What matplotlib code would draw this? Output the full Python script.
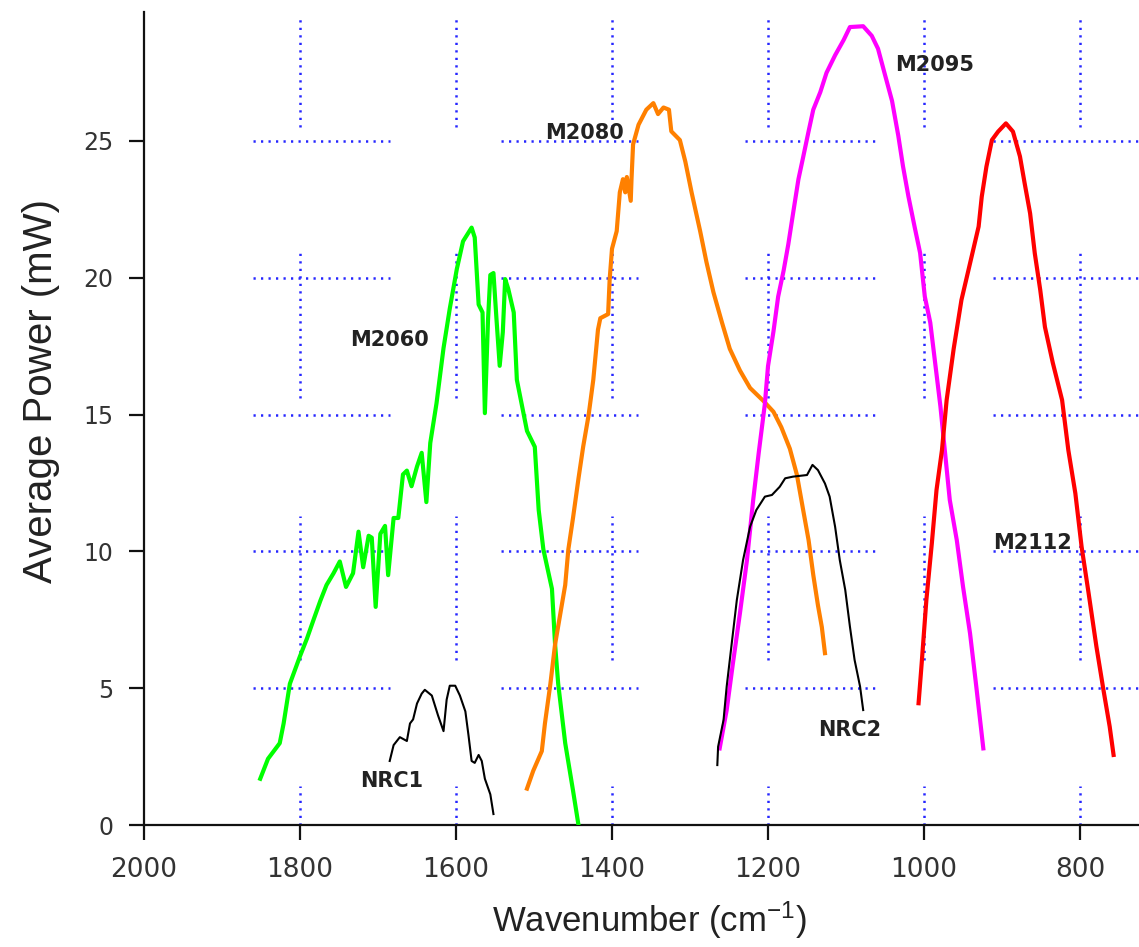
import matplotlib
matplotlib.use("Agg")
import matplotlib.pyplot as plt

# ---------------- data ----------------
m2060_x = [1851, 1841, 1826, 1821, 1813, 1800, 1791, 1783, 1774, 1766, 1757, 1749, 1741,
           1732, 1725, 1719, 1712, 1708, 1703, 1697, 1691, 1687, 1680, 1674, 1668, 1663,
           1657, 1650, 1644, 1638, 1633, 1625, 1616, 1608, 1599, 1591, 1580, 1576, 1571,
           1566, 1563, 1559, 1556, 1552, 1548, 1544, 1540, 1537, 1533, 1526, 1522, 1509,
           1499, 1494, 1488, 1477, 1473, 1469, 1460, 1450, 1443]
m2060_y = [1.69, 2.42, 2.99, 3.71, 5.16, 6.17, 6.82, 7.47, 8.19, 8.77, 9.20, 9.63, 8.70,
           9.20, 10.72, 9.42, 10.57, 10.50, 7.97, 10.64, 10.93, 9.13, 11.22, 11.22, 12.81,
           12.95, 12.38, 13.10, 13.60, 11.80, 13.96, 15.41, 17.43, 18.87, 20.31, 21.33,
           21.83, 21.47, 19.02, 18.73, 15.05, 18.44, 20.10, 20.17, 18.44, 16.78, 18.01,
           19.95, 19.59, 18.73, 16.27, 14.40, 13.82, 11.51, 10.07, 8.63, 6.60, 5.16, 2.99,
           1.26, 0.0]

m2080_x = [1509, 1501, 1490, 1486, 1479, 1473, 1467, 1460, 1456, 1450, 1443, 1437, 1430,
           1424, 1418, 1415, 1405, 1403, 1400, 1394, 1390, 1386, 1383, 1381, 1376, 1375,
           1373, 1366, 1356, 1347, 1341, 1334, 1327, 1324, 1313, 1306, 1298, 1287, 1279,
           1270, 1259, 1249, 1236, 1223, 1206, 1193, 1183, 1172, 1163, 1155, 1148, 1142,
           1136, 1131, 1127]
m2080_y = [1.33, 1.98, 2.70, 3.71, 5.16, 6.60, 7.60, 8.77, 10.07, 11.22, 12.66, 13.82,
           14.98, 16.27, 18.10, 18.52, 18.67, 19.95, 21.06, 21.70, 23.12, 23.60, 23.12,
           23.68, 22.81, 23.60, 24.87, 25.59, 26.14, 26.38, 25.98, 26.22, 26.14, 25.35,
           25.03, 24.24, 23.12, 21.70, 20.58, 19.47, 18.36, 17.40, 16.61, 15.97, 15.50,
           15.10, 14.54, 13.75, 12.80, 11.52, 10.41, 9.14, 8.03, 7.23, 6.28]

m2095_x = [1262, 1253, 1245, 1236, 1227, 1219, 1212, 1204, 1200, 1193, 1187, 1180, 1174,
           1168, 1161, 1155, 1148, 1142, 1133, 1125, 1114, 1103, 1095, 1078, 1067, 1059,
           1050, 1041, 1033, 1027, 1020, 1012, 1005, 999, 992, 979, 967, 958, 950, 941,
           933, 924]
m2095_y = [2.80, 4.20, 5.91, 7.74, 9.68, 11.88, 13.58, 15.40, 16.77, 18.04, 19.31, 20.26,
           21.22, 22.33, 23.60, 24.40, 25.35, 26.14, 26.78, 27.49, 28.13, 28.69, 29.16,
           29.19, 28.84, 28.37, 27.41, 26.46, 25.19, 24.08, 22.97, 21.85, 20.90, 19.31,
           18.36, 15.30, 11.88, 10.41, 8.71, 7.00, 5.06, 2.80]

m2112_x = [1007, 1003, 997, 990, 984, 977, 971, 962, 952, 945, 939, 930, 926, 920, 913,
           905, 895, 886, 877, 871, 864, 858, 851, 845, 835, 823, 815, 806, 798, 789, 779,
           770, 762, 757]
m2112_y = [4.45, 5.91, 8.22, 10.29, 12.24, 13.70, 15.53, 17.40, 19.19, 20.04, 20.77,
           21.87, 22.96, 24.06, 25.03, 25.34, 25.64, 25.34, 24.43, 23.45, 22.35, 20.89,
           19.55, 18.20, 16.90, 15.53, 13.70, 12.12, 10.17, 8.47, 6.52, 4.94, 3.60, 2.56]

nrc1_x = [1685, 1680, 1672, 1663, 1659, 1655, 1650, 1644, 1640, 1631, 1623, 1616, 1612,
          1608, 1601, 1595, 1588, 1584, 1580, 1576, 1571, 1567, 1563, 1556, 1552]
nrc1_y = [2.34, 2.92, 3.21, 3.07, 3.71, 3.86, 4.44, 4.80, 4.94, 4.73, 4.00, 3.43, 4.58,
          5.09, 5.09, 4.73, 4.15, 3.28, 2.34, 2.27, 2.56, 2.34, 1.69, 1.12, 0.40]

nrc2_x = [1265, 1264, 1257, 1253, 1247, 1240, 1232, 1223, 1215, 1204, 1195, 1185, 1178,
          1168, 1150, 1143, 1136, 1127, 1121, 1114, 1108, 1101, 1095, 1089, 1082, 1078]
nrc2_y = [2.19, 2.86, 3.84, 5.06, 6.52, 8.22, 9.68, 10.90, 11.51, 12.00, 12.06, 12.36,
          12.67, 12.73, 12.79, 13.16, 12.97, 12.48, 12.00, 10.90, 9.68, 8.59, 7.25, 6.03,
          5.06, 4.20]

series_names = ["M2060", "M2080", "M2095", "M2112", "NRC1", "NRC2"]
label_pos_x = [1736, 1486, 1037, 911, 1723, 1136]
label_pos_y = [17.73, 25.27, 27.78, 10.31, 1.62, 3.47]

x_ticks = [2000, 1800, 1600, 1400, 1200, 1000, 800]
y_ticks = [0, 5, 10, 15, 20, 25]
x_grid = [1800, 1600, 1400, 1200, 1000, 800]
y_grid = [5, 10, 15, 20, 25]

# ---------------- style ----------------
plt.rcParams['lines.scale_dashes'] = False
plt.rcParams['mathtext.default'] = 'regular'

fig = plt.figure(figsize=(11.39, 9.47), dpi=100)
ax = fig.add_axes([144 / 1139, 122 / 947, 995 / 1139, 813 / 947])
ax.set_xlim(2000, 724.4)
ax.set_ylim(0, 29.71)

# segmented dotted grid (gaps as in reference)
v_segments = [(0, 1.43), (6.03, 11.29), (15.61, 20.98), (25.51, 29.46)]
h_segments = [(1860.3, 1684.6), (1542.3, 1366.7), (1229.5, 1057.7), (911.5, 724.4)]
grid_kw = dict(color='#2626ff', lw=1.8, linestyle=(0, (1.6, 3.8)),
               dash_capstyle='butt', zorder=1)
for gx in x_grid:
    for y0, y1 in v_segments:
        ax.plot([gx, gx], [y0, y1], **grid_kw)
for gy in y_grid:
    for x0, x1 in h_segments:
        ax.plot([x0, x1], [gy, gy], **grid_kw)

ax.plot(m2060_x, m2060_y, color='#00ff00', lw=3.0, zorder=3)
ax.plot(m2080_x, m2080_y, color='#ff8000', lw=3.0, zorder=3)
ax.plot(m2095_x, m2095_y, color='#ff00ff', lw=3.0, zorder=3)
ax.plot(m2112_x, m2112_y, color='#ff0000', lw=3.0, zorder=3)
ax.plot(nrc1_x, nrc1_y, color='black', lw=1.5, zorder=4)
ax.plot(nrc2_x, nrc2_y, color='black', lw=1.5, zorder=4)

for name, lx, ly in zip(series_names, label_pos_x, label_pos_y):
    ax.text(lx, ly, name, fontsize=15, fontweight='bold', color='#222222',
            family='DejaVu Sans', ha='left', va='center', zorder=5)

for s in ['top', 'right']:
    ax.spines[s].set_visible(False)
for s in ['left', 'bottom']:
    ax.spines[s].set_linewidth(1.6)
    ax.spines[s].set_color('#111111')

ax.set_xticks(x_ticks)
ax.set_yticks(y_ticks)
ax.set_xticklabels([str(v) for v in x_ticks])
ax.set_yticklabels([str(v) for v in y_ticks])
ax.tick_params(axis='both', direction='out', length=11, width=1.6, color='#111111')
ax.tick_params(axis='x', labelsize=19, labelcolor='#333333', pad=12)
ax.tick_params(axis='y', labelsize=17, labelcolor='#333333', pad=11)

ax.set_xlabel('Wavenumber (cm$^{-1}$)', fontsize=25, family='Liberation Sans',
              color='#222222', va='top')
ax.xaxis.set_label_coords(0.5075, -0.092)
ax.set_ylabel('Average Power (mW)', fontsize=29, family='Liberation Sans',
              color='#222222')
ax.yaxis.set_label_coords(-0.084, 0.534)

fig.savefig('out.png', dpi=100)
